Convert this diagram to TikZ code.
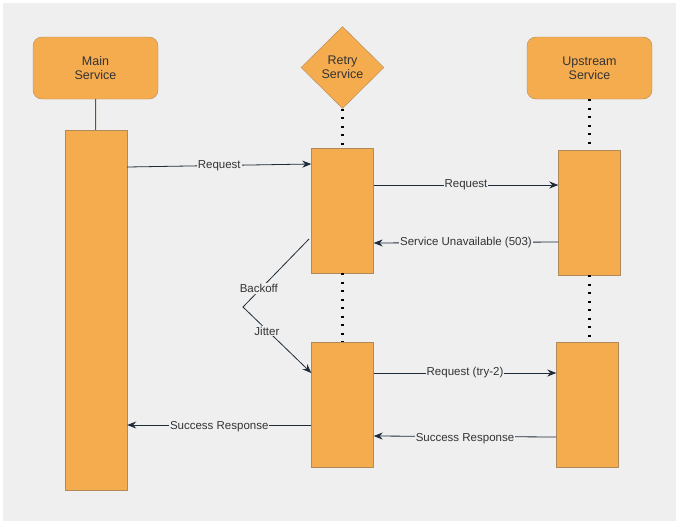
\documentclass[tikz,border=0pt]{standalone}
\usepackage{fontspec}
\setmainfont{Liberation Sans}
\usetikzlibrary{shapes.geometric,arrows.meta}
\definecolor{bgrey}{HTML}{EFEFEF}
\definecolor{boxfill}{HTML}{F5AC4F}
\definecolor{boxline}{HTML}{B08A5A}
\definecolor{wire}{HTML}{1E2B38}
\definecolor{txt}{HTML}{333333}

\begin{document}
\begin{tikzpicture}[x=1pt,y=-1pt,
  svc/.style = {draw=boxline, fill=boxfill, rounded corners=9pt, minimum width=125pt, minimum height=62pt, align=center, text=txt, font=\fontsize{12.5}{14}\selectfont},
  gate/.style = {draw=boxline, fill=boxfill, diamond, inner sep=0pt, minimum width=83pt, minimum height=82pt, align=center, text=txt, font=\fontsize{12.5}{14}\selectfont},
  bar/.style = {draw=boxline, fill=boxfill, inner sep=0pt, minimum width=62pt, minimum height=125pt},
  msg/.style = {draw=wire, line width=0.8pt, -{Stealth[length=9pt,width=7pt]}},
  life/.style = {draw=black, line width=2.2pt, dash pattern=on 2.2pt off 6.3pt},
  lbl/.style = {fill=bgrey, inner sep=1pt, text=txt, font=\fontsize{11.5}{13}\selectfont}]
        \useasboundingbox (0,0) rectangle (678,523);
        \fill[bgrey] (3,3) rectangle (676,521);
        % participants
        \node[svc] (main) at (95.5,68) {Main\\Service};
        \node[gate] (retry) at (342.5,67.5) {Retry\\Service};
        \node[svc] (upstream) at (589.5,68) {Upstream\\Service};
        % activation bars
        \node[bar, minimum height=360pt] (mbar) at (96,310) {};
        \node[bar] (r1) at (342.5,210.5) {};
        \node[bar] (r2) at (342.5,404.5) {};
        \node[bar] (u1) at (589.5,212.5) {};
        \node[bar] (u2) at (587.5,404.5) {};
        % lifelines
        \draw[boxline!60!black, line width=0.9pt] (main) -- (mbar);
        \draw[life] (retry.south) -- (r1.north);
        \draw[life] (r1.south) -- (r2.north);
        \draw[life] (upstream.south) -- (u1.north);
        \draw[life] (u1.south) -- (u2.north -| u1.south);
        % messages
        \draw[msg] (mbar.east |- 0,167) -- node[lbl, pos=0.5] {Request} (r1.west |- 0,164);
        \draw[msg] (r1.east |- 0,185) -- node[lbl, pos=0.5] {Request} (u1.west |- 0,185);
        \draw[msg] (u1.west |- 0,242) -- node[lbl, pos=0.5] {Service Unavailable (503)} (r1.east |- 0,243);
        \coordinate (bend) at (243,307);
        \draw[msg] (309,239) -- node[lbl, pos=0.76, yshift=2pt] {Backoff} (bend) -- node[lbl, pos=0.35, yshift=-1pt] {Jitter} (r2.west |- 0,373);
        \draw[msg] (r2.east |- 0,373) -- node[lbl, pos=0.5] {Request (try-2)} (u2.west |- 0,373);
        \draw[msg] (u2.west |- 0,437) -- node[lbl, pos=0.5, yshift=-2pt] {Success Response} (r2.east |- 0,436);
        \draw[msg] (r2.west |- 0,425) -- node[lbl, pos=0.5, yshift=-2pt] {Success Response} (mbar.east |- 0,425);
\end{tikzpicture}
\end{document}
